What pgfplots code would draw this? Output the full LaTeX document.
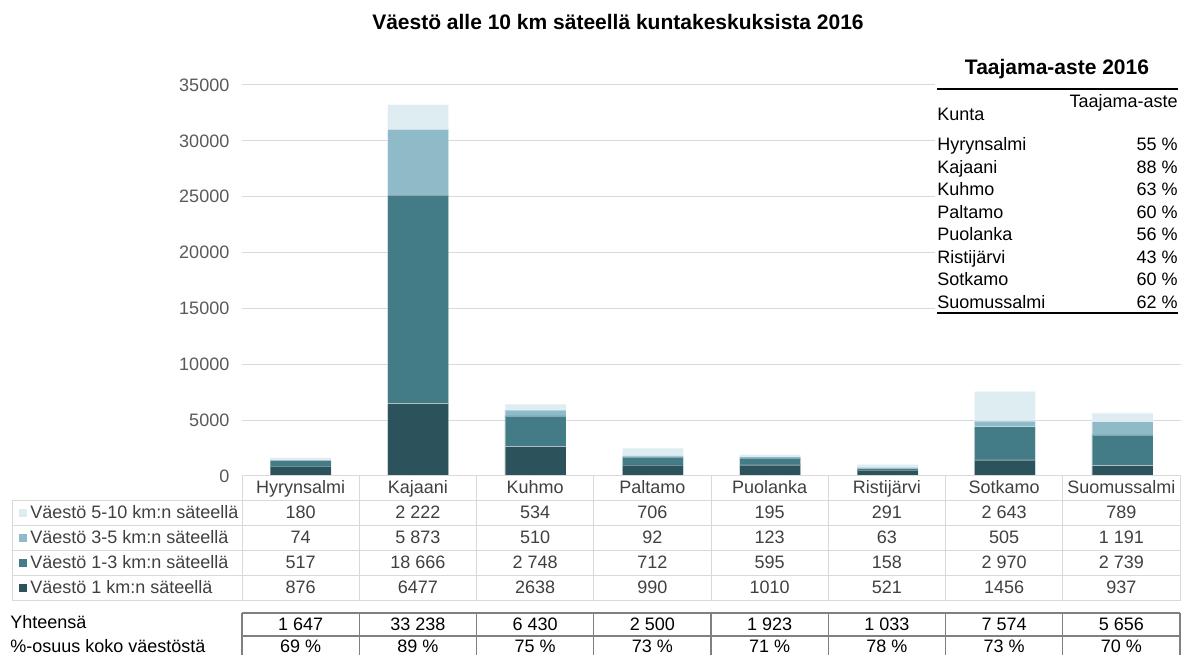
\documentclass[border=0pt]{standalone}
\usepackage{pgfplots}
\pgfplotsset{compat=1.18}
\usepackage{fontspec}
\setmainfont{Liberation Sans}
\definecolor{c1}{RGB}{44,82,92}
\definecolor{c2}{RGB}{67,123,135}
\definecolor{c3}{RGB}{143,186,200}
\definecolor{c4}{RGB}{222,237,242}
\definecolor{gridc}{RGB}{217,217,217}
\definecolor{tickc}{RGB}{89,89,89}
\definecolor{txt}{RGB}{64,64,64}
\definecolor{tblline}{RGB}{128,128,128}
\newcommand{\fs}{\fontsize{13.5}{16}\selectfont}
\begin{document}
\begin{tikzpicture}[x=0.75pt,y=0.75pt,
  t/.style={anchor=base,inner sep=0pt,font=\fs},
  tw/.style={anchor=base west,inner sep=0pt,font=\fs},
  te/.style={anchor=base east,inner sep=0pt,font=\fs}]
\useasboundingbox (0,0) rectangle (1181,655);
\coordinate (O) at (242,179);
\begin{axis}[
  at={(O)}, anchor=south west,
  scale only axis, width=704.25pt, height=293.25pt,
  xmin=-0.5, xmax=7.5, ymin=0, ymax=35000,
  ybar stacked, bar width=45.75pt,
  axis line style={draw=none},
  xtick=\empty,
  ytick={0,5000,10000,15000,20000,25000,30000,35000},
  ymajorgrids, grid style={gridc, line width=0.75pt},
  major tick length=0pt,
  yticklabel style={font=\fs, text=tickc, xshift=-6pt},
  /pgf/number format/assume math mode=true,
  /pgf/number format/1000 sep={},
  scaled y ticks=false,
  clip=false,
]
\addplot[fill=c1, draw=white, draw opacity=0.35, line width=0.3pt] coordinates {(0,876) (1,6477) (2,2638) (3,990) (4,1010) (5,521) (6,1456) (7,937)};
\addplot[fill=c2, draw=white, draw opacity=0.35, line width=0.3pt] coordinates {(0,517) (1,18666) (2,2748) (3,712) (4,595) (5,158) (6,2970) (7,2739)};
\addplot[fill=c3, draw=white, draw opacity=0.35, line width=0.3pt] coordinates {(0,74) (1,5873) (2,510) (3,92) (4,123) (5,63) (6,505) (7,1191)};
\addplot[fill=c4, draw=white, draw opacity=0.35, line width=0.3pt] coordinates {(0,180) (1,2222) (2,534) (3,706) (4,195) (5,291) (6,2643) (7,789)};
\end{axis}

% title
\node[t,font=\fontsize{15.75}{18}\selectfont\bfseries] at (618,625.5) {Väestö alle 10 km säteellä kuntakeskuksista 2016};

% data table grid
\begin{scope}[gridc, line width=0.75pt]
\draw (242,179) -- (1180,179);
\foreach \yy in {154,129,104,79,54} \draw (12,\yy) -- (1180,\yy);
\foreach \i in {0,...,8} \draw ({242+117.25*\i},179) -- ({242+117.25*\i},54);
\draw (12,154) -- (12,54);
\end{scope}

% category names
\foreach \n [count=\i from 0] in {Hyrynsalmi,Kajaani,Kuhmo,Paltamo,Puolanka,Ristijärvi,Sotkamo,Suomussalmi}
  \node[t,text=txt] at ({242+117.25*(\i+0.5)},161) {\n};

% legend column
\fill[c4] (19,138) rectangle (27,146);
\fill[c3] (19,113) rectangle (27,121);
\fill[c2] (19,88) rectangle (27,96);
\fill[c1] (19,63) rectangle (27,71);
\node[tw,text=txt] at (30,136) {Väestö 5-10 km:n säteellä};
\node[tw,text=txt] at (30,111) {Väestö 3-5 km:n säteellä};
\node[tw,text=txt] at (30,86) {Väestö 1-3 km:n säteellä};
\node[tw,text=txt] at (30,61) {Väestö 1 km:n säteellä};

% values
\foreach \v [count=\i from 0] in {180,2~222,534,706,195,291,2~643,789}
  \node[t,text=txt] at ({242+117.25*(\i+0.5)},136) {\v};
\foreach \v [count=\i from 0] in {74,5~873,510,92,123,63,505,1~191}
  \node[t,text=txt] at ({242+117.25*(\i+0.5)},111) {\v};
\foreach \v [count=\i from 0] in {517,18~666,2~748,712,595,158,2~970,2~739}
  \node[t,text=txt] at ({242+117.25*(\i+0.5)},86) {\v};
\foreach \v [count=\i from 0] in {876,6477,2638,990,1010,521,1456,937}
  \node[t,text=txt] at ({242+117.25*(\i+0.5)},61) {\v};

% lower table
\begin{scope}[tblline, line width=1pt]
\foreach \yy in {42,19,-3} \draw (242,\yy) -- (1180,\yy);
\foreach \i in {0,...,8} \draw ({242+117.25*\i},42) -- ({242+117.25*\i},-3);
\end{scope}
\node[tw] at (10,26) {Yhteensä};
\node[tw] at (10,2) {\%-osuus koko väestöstä};
\foreach \v [count=\i from 0] in {1~647,33~238,6~430,2~500,1~923,1~033,7~574,5~656}
  \node[t] at ({242+117.25*(\i+0.5)},24.5) {\v};
\foreach \v [count=\i from 0] in {69~\%,89~\%,75~\%,73~\%,71~\%,78~\%,73~\%,70~\%}
  \node[t] at ({242+117.25*(\i+0.5)},2) {\v};

% Taajama table
\fill[white] (935,333) rectangle (1181,603);
\node[t,font=\fontsize{15.75}{18}\selectfont\bfseries] at (1057,580) {Taajama-aste 2016};
\draw[black, line width=1.5pt] (937,566) -- (1178,566);
\node[tw] at (937,534) {Kunta};
\node[te] at (1178,547) {Taajama-aste};
\foreach \n/\v [count=\i from 0] in {Hyrynsalmi/55,Kajaani/88,Kuhmo/63,Paltamo/60,Puolanka/56,Ristijärvi/43,Sotkamo/60,Suomussalmi/62}{
  \node[tw] at (937,{504-22.5*\i}) {\n};
  \node[te] at (1178,{504-22.5*\i}) {\v~\%};
}
\draw[black, line width=1pt] (937,342) -- (1178,342);
\end{tikzpicture}
\end{document}
